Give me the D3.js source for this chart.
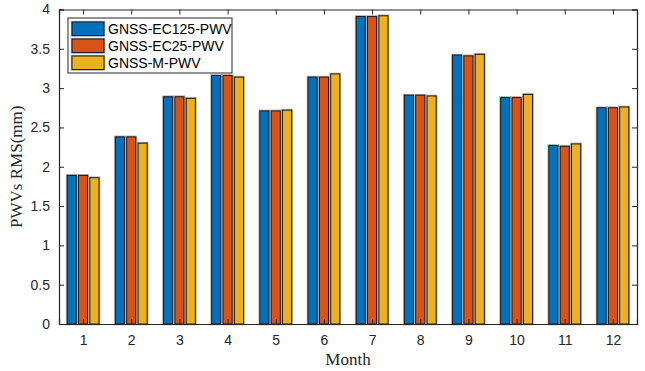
<!DOCTYPE html>
<html>
<head>
<meta charset="utf-8">
<script src="https://cdn.jsdelivr.net/npm/d3@7"></script>
<style>
  body { margin: 0; background: #fff; }
  text { font-family: "Liberation Sans", Arial, sans-serif; }
</style>
</head>
<body>
<div id="chart"></div>
<script>
// data
const months = [1, 2, 3, 4, 5, 6, 7, 8, 9, 10, 11, 12];
const seriesNames = ["GNSS-EC125-PWV", "GNSS-EC25-PWV", "GNSS-M-PWV"];
const ec125 = [1.89, 2.38, 2.89, 3.16, 2.71, 3.14, 3.91, 2.91, 3.42, 2.88, 2.27, 2.75];
const ec25  = [1.89, 2.38, 2.89, 3.16, 2.71, 3.14, 3.91, 2.91, 3.41, 2.88, 2.26, 2.75];
const mpwv  = [1.86, 2.30, 2.87, 3.14, 2.72, 3.18, 3.92, 2.90, 3.43, 2.92, 2.29, 2.76];
const yTicks = [0, 0.5, 1, 1.5, 2, 2.5, 3, 3.5, 4];
const colors = ["#0072BD", "#D95319", "#EDB120"];

const allSeries = [ec125, ec25, mpwv];

const W = 645, H = 371;
const margin = {top: 9.5, right: 8, bottom: 47, left: 59};
const width = W - margin.left - margin.right;
const height = H - margin.top - margin.bottom;

const svg = d3.select("#chart")
  .append("svg")
    .attr("width", W)
    .attr("height", H);

const g = svg.append("g")
    .attr("transform", `translate(${margin.left},${margin.top})`);

// scales
const x = d3.scaleLinear().domain([0.5, 12.5]).range([0, width]);
const y = d3.scaleLinear().domain([0, 4]).range([height, 0]);
const band = width / 12;
const xs = d3.scaleBand().domain(seriesNames).range([-band * 0.33, band * 0.33]).paddingInner(0.2);

// bars
months.forEach((m, i) => {
  seriesNames.forEach((s, j) => {
    const v = allSeries[j][i];
    const bx = x(m) + xs(s);
    // soft gray halo
    g.append("rect")
      .attr("x", bx)
      .attr("y", y(v))
      .attr("width", xs.bandwidth())
      .attr("height", height - y(v))
      .attr("fill", "none")
      .attr("stroke", "#a8a8a8")
      .attr("stroke-width", 2.6);
    g.append("rect")
      .attr("x", bx)
      .attr("y", y(v))
      .attr("width", xs.bandwidth())
      .attr("height", height - y(v))
      .attr("fill", colors[j])
      .attr("stroke", "#111")
      .attr("stroke-width", 0.9);
  });
});

// axes (MATLAB style: ticks inside, box on)
const tickLen = 5;
const axisColor = "#262626";

const axBottom = g.append("g")
  .attr("transform", `translate(0,${height})`)
  .call(d3.axisBottom(x).tickValues(months).tickSize(-tickLen).tickPadding(11).tickFormat(d3.format("d")));
const axLeft = g.append("g")
  .call(d3.axisLeft(y).tickValues(yTicks).tickSize(-tickLen).tickPadding(9).tickFormat(d => d));
const axTop = g.append("g")
  .call(d3.axisTop(x).tickValues(months).tickSize(-tickLen).tickFormat(""));
const axRight = g.append("g")
  .attr("transform", `translate(${width},0)`)
  .call(d3.axisRight(y).tickValues(yTicks).tickSize(-tickLen).tickFormat(""));

[axBottom, axLeft, axTop, axRight].forEach(a => {
  a.select(".domain").attr("stroke", axisColor).attr("stroke-width", 1.2);
  a.selectAll(".tick line").attr("stroke", axisColor);
  a.selectAll(".tick text")
    .attr("fill", axisColor)
    .style("font-size", "14px")
    .style("font-family", "'Liberation Sans', Arial, sans-serif");
});

// axis labels
g.append("text")
  .attr("x", width / 2)
  .attr("y", height + 41)
  .attr("text-anchor", "middle")
  .style("font-family", "'Liberation Serif', 'Times New Roman', serif")
  .style("font-size", "17px")
  .attr("fill", axisColor)
  .text("Month");

g.append("text")
  .attr("transform", "rotate(-90)")
  .attr("x", -height / 2)
  .attr("y", -37)
  .attr("text-anchor", "middle")
  .style("font-family", "'Liberation Serif', 'Times New Roman', serif")
  .style("font-size", "17px")
  .attr("fill", axisColor)
  .text("PWVs RMS(mm)");

// legend
const legend = svg.append("g").attr("transform", "translate(68,18)");
legend.append("rect")
  .attr("x", 0).attr("y", 0)
  .attr("width", 164).attr("height", 55)
  .attr("fill", "#fff")
  .attr("stroke", "#262626")
  .attr("stroke-width", 1);

seriesNames.forEach((s, j) => {
  const row = legend.append("g").attr("transform", `translate(4,${4 + j * 17})`);
  row.append("rect")
    .attr("width", 32).attr("height", 13.5)
    .attr("fill", "none")
    .attr("stroke", "#a8a8a8")
    .attr("stroke-width", 2.4);
  row.append("rect")
    .attr("width", 32).attr("height", 13.5)
    .attr("fill", colors[j])
    .attr("stroke", "#111")
    .attr("stroke-width", 0.9);
  row.append("text")
    .attr("x", 36)
    .attr("y", 7)
    .attr("dy", "0.35em")
    .style("font-size", "14px")
    .attr("fill", "#000")
    .text(s);
});
</script>
</body>
</html>
